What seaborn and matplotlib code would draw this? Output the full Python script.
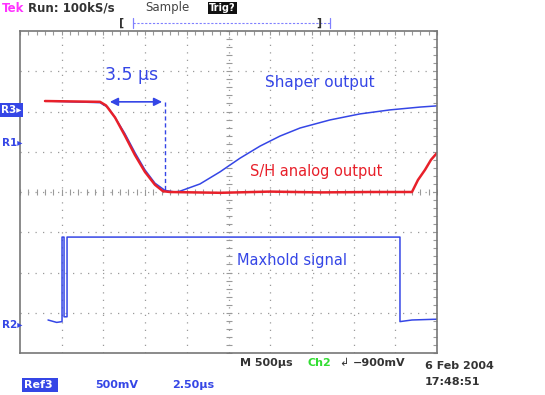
import numpy as np
import pandas as pd
import matplotlib.pyplot as plt
import seaborn as sns

# traces: time in us (2.5 us/div), level in divisions
shaper_t = [1.50, 4.80, 5.28, 5.70, 6.29, 6.89, 7.49, 8.09, 8.69, 9.29, 9.59,
            10.79, 11.99, 13.19, 14.39, 15.59, 16.79, 18.58, 20.38, 22.18, 23.98, 25.0]
shaper_v = [2.26, 2.22, 2.10, 1.85, 1.45, 0.98, 0.55, 0.22, 0.04, 0.0, 0.02,
            0.20, 0.50, 0.84, 1.14, 1.39, 1.59, 1.79, 1.94, 2.04, 2.11, 2.14]

sh_t = [1.50, 4.80, 5.16, 5.70, 6.29, 6.89, 7.49, 8.09, 8.57, 8.99,
        12.0, 15.0, 18.0, 21.0, 23.50, 23.86, 24.28, 24.64, 25.0]
sh_v = [2.26, 2.24, 2.15, 1.85, 1.40, 0.92, 0.50, 0.18, 0.02, 0.0,
        -0.02, 0.01, -0.01, 0.0, 0.0, 0.30, 0.55, 0.80, 0.97]

maxhold_t = [1.68, 2.20, 2.52, 2.52, 2.64, 2.64, 2.82, 2.82, 22.78, 22.78, 23.5, 25.0]
maxhold_v = [-3.18, -3.24, -3.22, -1.12, -1.12, -3.10, -3.10, -1.12, -1.12, -3.22, -3.18, -3.16]

peak_start, peak_end = 5.22, 8.69   # 3.5 us marker

BLUE = '#3546e6'
RED = '#e8202a'
GRID = '#9a9a9a'
DARK = '#333333'

sns.set_style("white")
plt.rcParams['font.family'] = ['DejaVu Sans']

W, H = 545, 395
fig = plt.figure(figsize=(W / 100, H / 100), dpi=100)
ax = fig.add_axes([20 / W, 42 / H, 417 / W, 322 / H])


def px(x, y):
    return x / W, 1 - y / H


# graticule
for x in np.arange(2.5, 25, 2.5):
    ax.axvline(x, color=GRID, lw=0.9, ls=(0, (1, 5)), zorder=0)
for y in np.arange(-3, 4, 1):
    ax.axhline(y, color=GRID, lw=0.9, ls=(0, (1, 5)), zorder=0)
minor_x = np.arange(0, 25.01, 0.5)
minor_y = np.arange(-4, 4.01, 0.2)
ax.plot(minor_x, np.zeros_like(minor_x), ls='none', marker='|', ms=4, color=GRID, mew=0.8, zorder=0)
ax.plot(np.full_like(minor_y, 12.5), minor_y, ls='none', marker='_', ms=4, color=GRID, mew=0.8, zorder=0)

sns.lineplot(x=shaper_t, y=shaper_v, sort=False, estimator=None, color=BLUE, lw=1.1, ax=ax)
sns.lineplot(x=sh_t, y=sh_v, sort=False, estimator=None, color=RED, lw=1.8, ax=ax)
sns.lineplot(x=maxhold_t, y=maxhold_v, sort=False, estimator=None, color=BLUE, lw=1.1, ax=ax)

ax.set_xlim(0, 25)
ax.set_ylim(-4, 4)
ax.set_xticks(minor_x, labels=[])
ax.set_yticks(minor_y, labels=[])
ax.tick_params(direction='in', length=3, width=0.8, color=GRID, top=True, right=True)
for s in ax.spines.values():
    s.set_color('#777777')
    s.set_linewidth(1.2)
ax.set_xlabel('')
ax.set_ylabel('')

# annotations
ax.annotate('', xy=(peak_start, 2.24), xytext=(peak_end, 2.24),
            arrowprops=dict(arrowstyle='<|-|>', color=BLUE, lw=1.2, mutation_scale=12))
ax.plot([peak_end, peak_end], [2.24, 0.05], color=BLUE, lw=1.0, ls=(0, (3, 2)))
ax.text(5.1, 2.9, '3.5 \u00b5s', color=BLUE, fontsize=12.5, va='center')
ax.text(14.7, 2.73, 'Shaper output', color=BLUE, fontsize=11, va='center')
ax.text(13.8, 0.5, 'S/H analog output', color=RED, fontsize=10.5, va='center')
ax.text(13.0, -1.69, 'Maxhold signal', color=BLUE, fontsize=10.5, va='center')

# screen header
fig.text(*px(2, 8), 'Tek', color='#ff33ff', fontsize=8.5, fontweight='bold', va='center')
fig.text(*px(28, 8), 'Run: 100kS/s', color=DARK, fontsize=8.5, fontweight='bold', va='center')
fig.text(*px(145, 8), 'Sample', color='#444444', fontsize=8.5, va='center')
fig.text(*px(209, 8), 'Trig?', color='white', fontsize=7, fontweight='bold', va='center',
         bbox=dict(boxstyle='square,pad=0.15', fc='#111111', ec='none'))
fig.text(*px(119, 23), '[', color=DARK, fontsize=8, fontweight='bold', va='center')
fig.text(*px(316, 23), ']', color=DARK, fontsize=8, fontweight='bold', va='center')
fig.lines.append(plt.Line2D([133 / W, 330 / W], [1 - 23 / H] * 2, transform=fig.transFigure,
                            color='#8080ff', lw=0.8, ls=(0, (2, 1.5))))
for xb in (133, 330):
    fig.lines.append(plt.Line2D([xb / W] * 2, [1 - 18 / H, 1 - 28 / H], transform=fig.transFigure,
                                color='#8080ff', lw=0.9))

# reference markers
fig.text(*px(1, 110), 'R3\u25b8', color='white', fontsize=7.5, fontweight='bold', va='center',
         bbox=dict(boxstyle='square,pad=0.15', fc=BLUE, ec='none'))
fig.text(*px(2, 143), 'R1\u25b8', color=BLUE, fontsize=7.5, fontweight='bold', va='center')
fig.text(*px(2, 325), 'R2\u25b8', color=BLUE, fontsize=7.5, fontweight='bold', va='center')

# footer
fig.text(*px(240, 363), 'M 500\u00b5s', color=DARK, fontsize=8, fontweight='bold', va='center')
fig.text(*px(308, 363), 'Ch2', color='#33dd33', fontsize=8, fontweight='bold', va='center')
fig.text(*px(339, 363), '\u21b2', color=DARK, fontsize=8, va='center')
fig.text(*px(353, 363), '\u2212900mV', color=DARK, fontsize=8, fontweight='bold', va='center')
fig.text(*px(425, 366), '6 Feb 2004', color=DARK, fontsize=8, fontweight='bold', va='center')
fig.text(*px(425, 382), '17:48:51', color=DARK, fontsize=8, fontweight='bold', va='center')
fig.text(*px(24, 385), 'Ref3 ', color='white', fontsize=8, fontweight='bold', va='center',
         bbox=dict(boxstyle='square,pad=0.15', fc=BLUE, ec='none'))
fig.text(*px(95, 385), '500mV', color=BLUE, fontsize=8, fontweight='bold', va='center')
fig.text(*px(172, 385), '2.50\u00b5s', color=BLUE, fontsize=8, fontweight='bold', va='center')

fig.savefig('out.png', dpi=100)
